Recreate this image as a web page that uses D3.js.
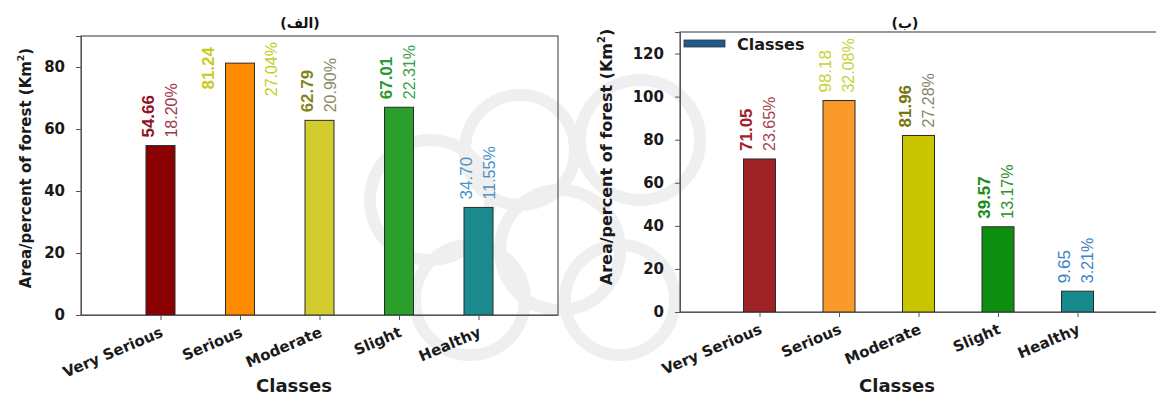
<!DOCTYPE html>
<html><head><meta charset="utf-8">
<script src="https://cdn.jsdelivr.net/npm/d3@7"></script>
<style>
html,body{margin:0;padding:0;background:#fff;}
svg{display:block;}
</style></head>
<body>
<svg id="chart" width="1156" height="398"></svg>
<script>
// ---- data ----
const categories = ["Very Serious", "Serious", "Moderate", "Slight", "Healthy"];
const areaA = [54.66, 81.24, 62.79, 67.01, 34.70];
const pctA  = [18.20, 27.04, 20.90, 22.31, 11.55];
const areaB = [71.05, 98.18, 81.96, 39.57, 9.65];
const pctB  = [23.65, 32.08, 27.28, 13.17, 3.21];
const yTicksA = [0, 20, 40, 60, 80];
const yTicksB = [0, 20, 40, 60, 80, 100, 120];
const titleA = "(الف)";
const titleB = "(ب)";
const yTitleText = "Area/percent of forest (Km";
const xTitleText = "Classes";
const legendText = "Classes";

// ---- styles ----
const barColorsA = ["#8B0000", "#FF8C00", "#D2CC2E", "#2C9E2C", "#1A8A8F"];
const valColorsA = ["#8E1424", "#C6CC1E", "#85851C", "#2A9A34", "#4C92C4"];
const pctColorsA = ["#A0344C", "#C6CC1E", "#8A8A68", "#3AA046", "#4C92C4"];
const valWeightA = ["bold", "bold", "bold", "bold", "normal"];
const barColorsB = ["#9E2226", "#FA9A2A", "#C8C400", "#0E8E0E", "#16898C"];
const valColorsB = ["#A51C2C", "#C8D23A", "#76760E", "#1A8A1A", "#3A82C8"];
const pctColorsB = ["#A84252", "#C8D23A", "#85856A", "#2A922A", "#3A82C8"];
const valWeightB = ["bold", "normal", "bold", "bold", "normal"];

const svg = d3.select("#chart");
svg.append("rect").attr("width", 1156).attr("height", 398).attr("fill", "#fff");

// faint watermark
const wm = svg.append("g").attr("fill", "none").attr("stroke", "#efefef").attr("stroke-width", 12);
[[430, 200, 60], [520, 150, 55], [560, 250, 60], [640, 140, 60], [470, 300, 55], [620, 300, 55]].forEach(c => {
  wm.append("circle").attr("cx", c[0]).attr("cy", c[1]).attr("r", c[2]);
});

const AX = "#555";
const boldFont = "'DejaVu Sans', sans-serif";
const labFont = "'Liberation Sans', Arial, sans-serif";

function panel(cfg) {
  const g = svg.append("g");
  const x = d3.scalePoint().domain(categories).range([cfg.left, cfg.right]).padding(1);
  const y = d3.scaleLinear().domain([0, cfg.ymax]).range([cfg.bottom, cfg.top]);

  // frame
  g.append("rect").attr("x", cfg.left).attr("y", cfg.top)
    .attr("width", cfg.right - cfg.left).attr("height", cfg.bottom - cfg.top)
    .attr("fill", "none").attr("stroke", AX).attr("stroke-width", 1.2);

  // bars
  const bw = cfg.barW;
  g.selectAll("rect.bar").data(cfg.area).join("rect").attr("class", "bar")
    .attr("x", (d, i) => x(categories[i]) - bw / 2)
    .attr("y", d => y(d))
    .attr("width", bw)
    .attr("height", d => cfg.bottom - y(d))
    .attr("fill", (d, i) => cfg.barColors[i])
    .attr("stroke", "#2a2a2a").attr("stroke-width", 1);

  // y axis
  const ya = g.append("g").attr("transform", `translate(${cfg.left},0)`)
    .call(d3.axisLeft(y).tickValues(cfg.yTicks).tickSize(5).tickPadding(11));
  ya.select(".domain").attr("stroke", AX);
  ya.selectAll(".tick line").attr("stroke", AX);
  ya.selectAll(".tick text").attr("font-family", boldFont).attr("font-weight", "bold")
    .attr("font-size", 15).attr("fill", "#1a1a1a");

  // x axis
  const xa = g.append("g").attr("transform", `translate(0,${cfg.bottom})`)
    .call(d3.axisBottom(x).tickSize(5).tickSizeOuter(0));
  xa.select(".domain").attr("stroke", AX).attr("d", `M${cfg.left - 5},0.5H${cfg.right}`);
  xa.selectAll(".tick line").attr("stroke", AX);
  xa.selectAll(".tick text")
    .attr("font-family", boldFont).attr("font-weight", "bold").attr("font-size", 15)
    .attr("fill", "#1a1a1a").attr("text-anchor", "end")
    .attr("dy", null).attr("y", null)
    .attr("transform", "translate(3,21) rotate(-23)");

  // bar labels
  cfg.area.forEach((v, i) => {
    const c = x(categories[i]);
    const top = y(v);
    const vt = g.append("text").text(v.toFixed(2))
      .attr("font-family", labFont).attr("font-size", 17)
      .attr("font-weight", cfg.valWeight[i]).attr("fill", cfg.valColors[i]);
    const pt = g.append("text").text(cfg.pct[i].toFixed(2) + "%")
      .attr("font-family", labFont).attr("font-size", 16).attr("fill", cfg.pctColors[i]);
    const len = Math.max(vt.node().getComputedTextLength(), pt.node().getComputedTextLength());
    if (top - 7 - len < cfg.top + 2) {
      // not enough room above: flank the bar
      vt.attr("text-anchor", "end")
        .attr("transform", `translate(${c - bw / 2 - 12},${cfg.top + 11}) rotate(-90)`);
      pt.attr("text-anchor", "end")
        .attr("transform", `translate(${c + bw / 2 + 22},${cfg.top + 6}) rotate(-90)`);
    } else {
      vt.attr("text-anchor", "start")
        .attr("transform", `translate(${c + cfg.valDx},${top - 8}) rotate(-90)`);
      pt.attr("text-anchor", "start")
        .attr("transform", `translate(${c + cfg.pctDx},${top - 8}) rotate(-90)`);
    }
  });

  // y title
  const yt = g.append("text")
    .attr("transform", `translate(${cfg.yTitleX},${cfg.yTitleY}) rotate(-90)`)
    .attr("text-anchor", "middle").attr("font-family", boldFont).attr("font-weight", "bold")
    .attr("font-size", cfg.yTitleSize).attr("fill", "#1a1a1a");
  yt.append("tspan").text(yTitleText);
  yt.append("tspan").text("2").attr("font-size", cfg.yTitleSize * 0.62).attr("dy", -7);
  yt.append("tspan").text(")").attr("dy", 7);

  // x title
  g.append("text").text(xTitleText)
    .attr("x", cfg.xTitleX).attr("y", 392).attr("text-anchor", "middle")
    .attr("font-family", boldFont).attr("font-weight", "bold").attr("font-size", 18).attr("fill", "#1a1a1a");

  // panel title
  g.append("text").text(cfg.title)
    .attr("x", cfg.titleX).attr("y", 28).attr("text-anchor", "middle")
    .attr("font-family", boldFont).attr("font-weight", "bold").attr("font-size", 14).attr("fill", "#111");

  return {g, x, y};
}

panel({
  left: 81, right: 558, top: 36, bottom: 315, ymax: 90, barW: 29,
  area: areaA, pct: pctA, yTicks: yTicksA,
  barColors: barColorsA, valColors: valColorsA, pctColors: pctColorsA, valWeight: valWeightA,
  valDx: -7, pctDx: 16,
  yTitleX: 31, yTitleY: 168, yTitleSize: 15,
  xTitleX: 294, titleX: 300, title: titleA
});

panel({
  left: 680, right: 1157, top: 32, bottom: 312, ymax: 130, barW: 32,
  area: areaB, pct: pctB, yTitleSize: 16, yTicks: yTicksB,
  barColors: barColorsB, valColors: valColorsB, pctColors: pctColorsB, valWeight: valWeightB,
  valDx: -8, pctDx: 15,
  yTitleX: 612, yTitleY: 157,
  xTitleX: 897, titleX: 905, title: titleB
});

// legend (panel B)
const lg = svg.append("g");
lg.append("rect").attr("x", 684).attr("y", 40).attr("width", 41).attr("height", 7)
  .attr("fill", "#1F5A8C").attr("stroke", "#333").attr("stroke-width", 0.8);
lg.append("text").text(legendText).attr("x", 737).attr("y", 50)
  .attr("font-family", boldFont).attr("font-weight", "bold").attr("font-size", 16).attr("fill", "#1a1a1a");
</script>
</body></html>
